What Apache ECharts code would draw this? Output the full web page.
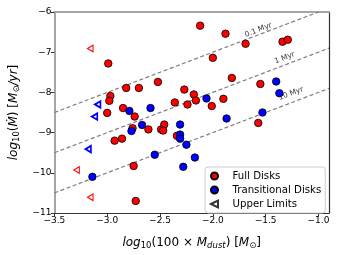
<!DOCTYPE html>
<html><head><meta charset="utf-8">
<script src="https://cdn.jsdelivr.net/npm/echarts@6/dist/echarts.min.js"></script>
<style>html,body{margin:0;padding:0;background:#fff}#c{width:339px;height:255px}</style>
</head><body><div id="c"></div>
<script>
// Full disks: [log10(100 Mdust), log10(Mdot)]
const fullX = [-2.99,-2.82,-2.70,-2.52,-2.97,-2.98,-3.00,-2.85,-2.74,-2.46,-2.12,-1.88,-1.69,-1.34,-1.29,-2.00,-1.82,-1.55,-2.27,-2.18,-2.16,-2.36,-2.24,-1.90,-2.01,-1.57,-2.76,-2.61,-2.49,-2.47,-2.34,-2.93,-2.86,-2.75,-2.73];
const fullY = [-7.28,-7.89,-7.89,-7.74,-8.09,-8.21,-8.51,-8.39,-8.60,-8.80,-6.34,-6.54,-6.79,-6.74,-6.69,-7.14,-7.64,-7.79,-7.93,-8.05,-8.20,-8.25,-8.30,-8.16,-8.34,-8.76,-8.89,-8.92,-8.92,-8.95,-9.08,-9.20,-9.15,-9.83,-10.70];
// Transitional disks
const transX = [-2.79,-2.59,-2.67,-2.31,-1.40,-1.37,-2.06,-1.87,-1.53,-2.77,-2.31,-2.31,-2.25,-2.17,-2.28,-2.55,-3.14];
const transY = [-8.46,-8.39,-8.81,-8.80,-7.73,-8.02,-8.15,-8.65,-8.50,-8.96,-9.05,-9.15,-9.30,-9.62,-9.85,-9.55,-10.10];
// Upper limits
const ulFullX = [-3.16,-3.29,-3.16];
const ulFullY = [-6.91,-9.93,-10.61];
const ulTransX = [-3.09,-3.12,-3.18];
const ulTransY = [-8.30,-8.60,-9.41];
// Accretion-timescale lines (Mdot = Mdisk / t)
const lineNames = ['0.1 Myr','1 Myr','10 Myr'];
const lineX0 = [-3.5,-3.5,-3.5];
const lineY0 = [-8.5,-9.5,-10.5];
const lineX1 = [-1.0,-0.9,-0.9];
const lineY1 = [-6.0,-6.9,-7.9];
const lineLabelX = [-1.57,-1.32,-1.26];
const lineLabelY = [-6.45,-7.14,-8.03];
// Ticks
const xTicks = [-3.5,-3.0,-2.5,-2.0,-1.5,-1.0];
const yTicks = [-11,-10,-9,-8,-7,-6];

const zip = (a,b)=>a.map((v,i)=>[v,b[i]]);
const FONT = 'DejaVu Sans';
const TRI = 'path://M0,5L10,0L10,10Z';
const minus = s => String(s).replace('-', '\u2212');

const series = [];
lineNames.forEach((n,i)=>{
  series.push({type:'line', data:[[lineX0[i],lineY0[i]],[lineX1[i],lineY1[i]]], symbol:'none', silent:true,
    lineStyle:{color:'#7f7f7f', width:1.2, type:[4,2.5]}, z:1});
});
series.push({type:'scatter', data: lineNames.map((n,i)=>({value:[lineLabelX[i],lineLabelY[i]], name:n})), symbolSize:0,
  label:{show:true, position:'inside', formatter:p=>p.name, rotate:21, fontFamily:FONT, fontSize:7.5, color:'#000'}, z:2});
series.push({name:'Full Disks', type:'scatter', data:zip(fullX,fullY), symbol:'circle', symbolSize:7.5,
  itemStyle:{color:'#ff0000', borderColor:'#000', borderWidth:0.8, opacity:1}, z:3});
series.push({name:'Transitional Disks', type:'scatter', data:zip(transX,transY), symbol:'circle', symbolSize:7.5,
  itemStyle:{color:'#0000ff', borderColor:'#000', borderWidth:0.8, opacity:1}, z:4});
series.push({type:'scatter', data:zip(ulFullX,ulFullY), symbol:TRI, symbolSize:[5.5,6.5],
  itemStyle:{color:'#fff', borderColor:'#ff0000', borderWidth:1.1, opacity:1}, z:3});
series.push({type:'scatter', data:zip(ulTransX,ulTransY), symbol:TRI, symbolSize:[5.5,6.5],
  itemStyle:{color:'#fff', borderColor:'#0000ff', borderWidth:1.8, opacity:1}, z:3});
series.push({name:'Upper Limits', type:'scatter', data:[], symbol:TRI, symbolKeepAspect:true,
  itemStyle:{color:'#fff', borderColor:'#000', borderWidth:1}});

const rich = {
  n:{fontFamily:FONT, fontSize:12, color:'#000'},
  i:{fontFamily:FONT, fontSize:12, fontStyle:'italic', color:'#000'},
  s:{fontFamily:FONT, fontSize:8.5, fontStyle:'italic', color:'#000', padding:[6,0,0,0]},
  u:{fontFamily:FONT, fontSize:8.5, color:'#000', padding:[6,0,0,0]}
};

const chart = echarts.init(document.getElementById('c'), null, {renderer:'canvas'});
chart.setOption({
  animation:false,
  grid:{left:53, right:10, top:12, bottom:39, containLabel:false},
  xAxis:[{
    type:'value', min:-3.5, max:-0.9, position:'bottom',
    axisLine:{show:true, onZero:false, lineStyle:{color:'#333', width:1.2}},
    axisTick:{show:true, length:3.5, inside:false, customValues:xTicks, lineStyle:{color:'#333'}},
    axisLabel:{customValues:xTicks, formatter:v=>minus(v.toFixed(1)), fontFamily:FONT, fontSize:9, color:'#000', margin:3},
    splitLine:{show:false},
    name:'{i|log}{u|10}{n|(100 × }{i|M}{s|dust}{n|) [}{i|M}{u|⊙}{n|]}',
    nameLocation:'middle', nameGap:22, nameTextStyle:{rich:rich}
  },{
    type:'value', min:-3.5, max:-0.9, position:'top',
    axisLine:{show:true, onZero:false, lineStyle:{color:'#a6a6a6', width:2}},
    axisTick:{show:false}, axisLabel:{show:false}, splitLine:{show:false}
  }],
  yAxis:[{
    type:'value', min:-11, max:-6, interval:1, position:'left',
    axisLine:{show:true, onZero:false, lineStyle:{color:'#a6a6a6', width:2}},
    axisTick:{show:true, length:3.5, lineStyle:{color:'#333'}},
    axisLabel:{formatter:v=>minus(v), fontFamily:FONT, fontSize:9, color:'#000', margin:3},
    splitLine:{show:false},
    name:'{i|log}{u|10}{n|(}{i|M\u0307}{n|) [}{i|M}{u|⊙}{i|/yr}{n|]}',
    nameLocation:'middle', nameGap:30, nameRotate:90, nameTextStyle:{rich:rich}
  },{
    type:'value', min:-11, max:-6, position:'right',
    axisLine:{show:true, onZero:false, lineStyle:{color:'#333', width:1.2}},
    axisTick:{show:false}, axisLabel:{show:false}, splitLine:{show:false}
  }],
  legend:{
    orient:'vertical', left:205, top:167,
    data:[{name:'Full Disks', icon:'circle'},{name:'Transitional Disks', icon:'circle'},{name:'Upper Limits', icon:TRI}],
    itemWidth:26, itemHeight:7, itemGap:2,
    padding:[3,4,3,5],
    textStyle:{fontFamily:FONT, fontSize:10.2, color:'#000', lineHeight:12},
    borderColor:'#cccccc', borderWidth:1, borderRadius:3, backgroundColor:'#fff'
  },
  series:series
});
</script></body></html>
